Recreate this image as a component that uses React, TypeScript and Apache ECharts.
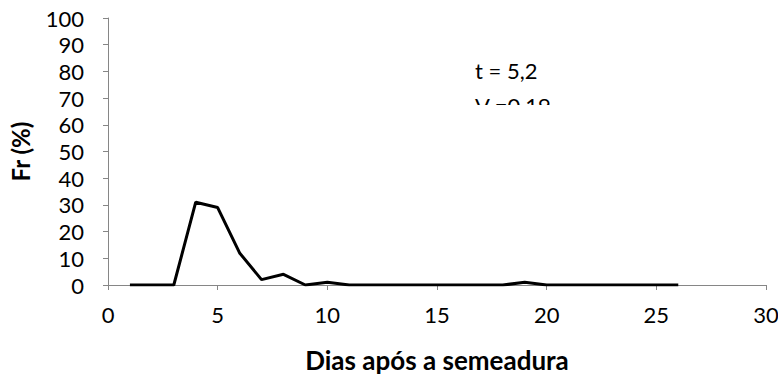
import React, { useEffect, useRef } from "react";
import * as echarts from "echarts";

const days = [1,2,3,4,5,6,7,8,9,10,11,12,13,14,15,16,17,18,19,20,21,22,23,24,25,26];
const fr = [0,0,0,31,29,12,2,4,0,1,0,0,0,0,0,0,0,0,1,0,0,0,0,0,0,0];
const xTitle = "Dias após a semeadura";
const yTitle = "Fr (%)";
const note1 = "t = 5,2";
const note2 = "V =0,19";

export default function App() {
  const ref = useRef<HTMLDivElement>(null);
  useEffect(() => {
    if (!ref.current) return;
    const chart = echarts.init(ref.current, undefined, { renderer: "svg" });
    const font = "Lato, 'Open Sans', sans-serif";
    chart.setOption({
      animation: false,
      backgroundColor: "#ffffff",
      textStyle: { fontFamily: font },
      grid: {
        left: 108,
        top: 18,
        right: 12,
        bottom: 93,
        containLabel: false,
        outerBoundsMode: "none",
      },
      xAxis: {
        type: "value",
        min: 0,
        max: 30,
        interval: 5,
        name: xTitle,
        nameLocation: "middle",
        nameGap: 62,
        nameTextStyle: { fontSize: 26, fontWeight: "bold", color: "#000", fontFamily: font },
        axisLine: { lineStyle: { color: "#868686", width: 1 } },
        axisTick: { show: true, length: 5, lineStyle: { color: "#868686" } },
        axisLabel: { fontSize: 22, color: "#000", margin: 18, fontFamily: font },
        splitLine: { show: false },
      },
      yAxis: {
        type: "value",
        min: 0,
        max: 100,
        interval: 10,
        name: yTitle,
        nameLocation: "middle",
        nameGap: 76,
        nameRotate: 90,
        nameTextStyle: { fontSize: 24, fontWeight: "bold", color: "#000", fontFamily: font },
        axisLine: { show: true, lineStyle: { color: "#868686", width: 1 } },
        axisTick: { show: true, length: 5, lineStyle: { color: "#868686" } },
        axisLabel: { fontSize: 22, color: "#000", margin: 24, fontFamily: font },
        splitLine: { show: false },
      },
      series: [
        {
          type: "line",
          data: days.map((d, i) => [d, fr[i]]),
          showSymbol: false,
          symbol: "none",
          lineStyle: { color: "#000", width: 3 },
          itemStyle: { color: "#000" },
        },
      ],
      graphic: [
        {
          type: "text",
          left: 475,
          top: 59,
          style: { text: note1, fontSize: 22, fill: "#000", fontFamily: font },
        },
        {
          type: "text",
          left: 475,
          top: 94,
          style: { text: note2, fontSize: 22, fill: "#000", fontFamily: font },
        },
        {
          type: "rect",
          shape: { x: 465, y: 105, width: 130, height: 30 },
          style: { fill: "#ffffff" },
          z: 100,
        },
      ],
    });
    return () => chart.dispose();
  }, []);
  return <div ref={ref} style={{ width: 778, height: 378, position: "absolute", left: 0, top: 0 }} />;
}
